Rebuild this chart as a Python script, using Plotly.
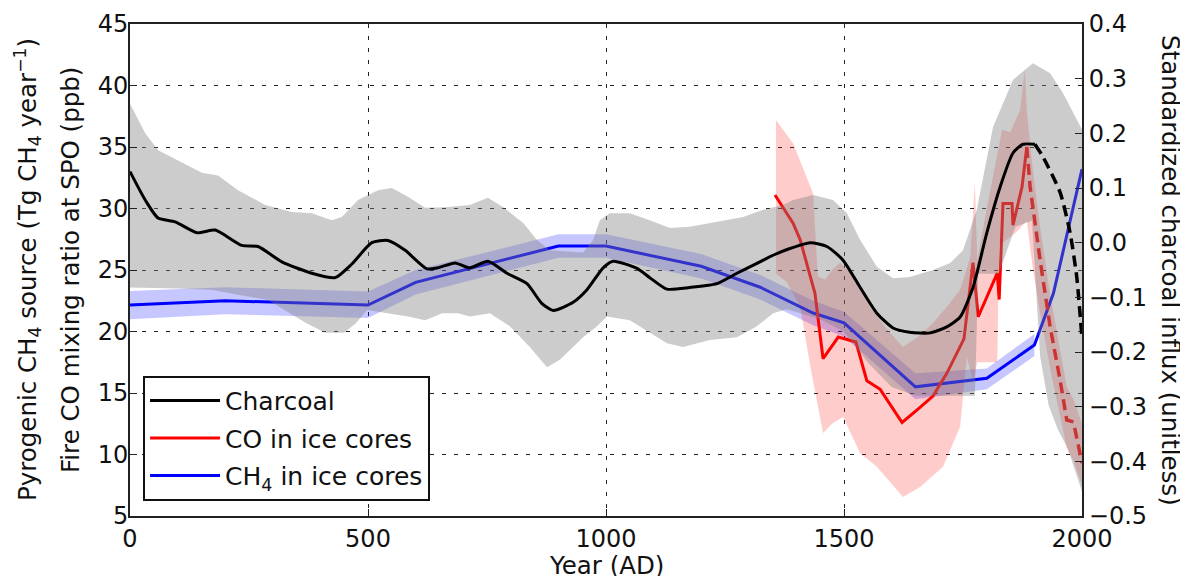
import plotly.graph_objects as go

# ---------------- data ----------------
# Charcoal composite (right axis, standardized units)
charcoal_year = [0, 32, 59, 95, 141, 179, 235, 269, 319, 382, 431, 466, 508, 542, 578, 624, 647,
                 683, 714, 752, 792, 834, 865, 889, 931, 960, 994, 1015, 1065, 1092, 1128, 1176,
                 1233, 1275, 1317, 1351, 1382, 1429, 1464, 1498, 1534, 1569, 1603, 1638, 1681,
                 1716, 1744, 1771, 1800, 1828, 1855, 1876, 1901]
charcoal_val = [0.130, 0.078, 0.045, 0.038, 0.018, 0.023, -0.005, -0.007, -0.035, -0.056, -0.064,
                -0.039, 0.000, 0.004, -0.014, -0.048, -0.046, -0.037, -0.046, -0.034, -0.056,
                -0.075, -0.111, -0.124, -0.109, -0.086, -0.046, -0.034, -0.047, -0.064, -0.085,
                -0.082, -0.075, -0.056, -0.038, -0.023, -0.012, 0.000, -0.007, -0.032, -0.082,
                -0.129, -0.156, -0.164, -0.165, -0.154, -0.136, -0.082, 0.018, 0.102, 0.164,
                0.180, 0.180]
charcoal_dash_year = [1901, 1918, 1954, 1975, 1989, 2000]
charcoal_dash_val = [0.180, 0.157, 0.092, 0.018, -0.063, -0.175]

# Charcoal uncertainty envelope (right axis units)
charcoal_up_year = [0, 32, 59, 101, 151, 185, 227, 284, 340, 382, 424, 445, 479, 521, 550, 584,
                    620, 662, 714, 752, 784, 826, 855, 882, 910, 952, 973, 987, 1008, 1050, 1092,
                    1134, 1176, 1233, 1288, 1330, 1372, 1393, 1435, 1477, 1506, 1534, 1569, 1603,
                    1638, 1687, 1723, 1750, 1779, 1813, 1855, 1897, 1933, 1960, 1989, 2000]
charcoal_up = [0.254, 0.200, 0.169, 0.150, 0.128, 0.123, 0.096, 0.069, 0.056, 0.054, 0.041, 0.047,
               0.078, 0.096, 0.100, 0.084, 0.064, 0.065, 0.069, 0.082, 0.065, 0.036, 0.005,
               -0.014, -0.016, -0.018, 0.005, 0.041, 0.054, 0.054, 0.041, 0.027, 0.029, 0.038,
               0.047, 0.060, 0.069, 0.078, 0.087, 0.078, 0.054, 0.005, -0.044, -0.065, -0.063,
               -0.050, -0.037, -0.014, 0.060, 0.211, 0.298, 0.328, 0.310, 0.274, 0.225, 0.207]
charcoal_lo_year = [0, 100, 170, 290, 370, 410, 450, 475, 498, 540, 584, 620, 656, 689, 714, 756,
                    798, 840, 876, 903, 952, 981, 1002, 1050, 1092, 1128, 1162, 1218, 1275, 1317,
                    1351, 1380, 1450, 1500, 1550, 1600, 1650, 1700, 1775, 1782, 1825, 1860, 1895,
                    1912, 1930, 1950, 1970, 2000]
charcoal_lo = [-0.082, -0.084, -0.086, -0.105, -0.147, -0.165, -0.165, -0.147, -0.123, -0.129,
               -0.135, -0.142, -0.129, -0.129, -0.135, -0.129, -0.153, -0.191, -0.228, -0.214,
               -0.173, -0.153, -0.135, -0.142, -0.165, -0.184, -0.191, -0.178, -0.173, -0.153,
               -0.129, -0.122, -0.140, -0.163, -0.219, -0.264, -0.280, -0.280, -0.280, -0.057,
               -0.057, 0.029, 0.040, -0.208, -0.298, -0.343, -0.376, -0.455]

# CO in ice cores (left axis, ppb)
co_year = [1355, 1393, 1408, 1439, 1456, 1488, 1525, 1548, 1576, 1622, 1653, 1687, 1716, 1752,
           1771, 1782, 1822, 1826, 1834, 1853, 1855, 1874, 1884]
co_val = [31.1, 28.8, 27.45, 23.1, 17.8, 19.55, 19.15, 16.0, 15.3, 12.6, 13.6, 14.75, 16.6, 19.4,
          25.6, 21.2, 24.75, 22.6, 30.4, 30.4, 28.65, 31.75, 35.0]
co_dash_year = [1884, 1891, 1912, 1933, 1954, 1968, 1982, 2000]
co_dash_val = [35.0, 31.75, 25.8, 20.4, 16.05, 12.8, 12.65, 9.3]

co_up_year = [1357, 1393, 1435, 1445, 1460, 1475, 1492, 1520, 1555, 1590, 1624, 1660, 1687, 1720,
              1744, 1765, 1775, 1780, 1800, 1832, 1849, 1870, 1880, 1884]
co_up = [37.2, 35.3, 31.25, 24.5, 24.2, 25.0, 25.6, 24.5, 22.0, 20.2, 18.75, 19.7, 20.7, 22.2,
         23.4, 26.0, 32.1, 25.8, 30.0, 36.4, 36.2, 38.0, 41.3, 38.0]
co_lo_year = [1357, 1380, 1408, 1430, 1456, 1475, 1498, 1534, 1569, 1624, 1660, 1708, 1744, 1758,
              1771, 1780, 1822, 1826, 1860, 1884]
co_lo = [24.7, 24.0, 22.0, 17.0, 11.75, 12.5, 13.05, 10.1, 9.0, 6.55, 7.35, 9.0, 12.25, 17.9,
         16.0, 17.5, 17.5, 27.0, 28.0, 29.0]
co_dash_band_year = [1884, 1897, 1912, 1933, 1954, 1968, 1982, 2000]
co_dash_up = [38.0, 33.0, 28.5, 23.0, 18.5, 15.5, 14.5, 12.5]
co_dash_lo = [29.0, 25.0, 21.5, 17.0, 13.0, 10.5, 9.5, 7.5]

# CH4 in ice cores (left axis, Tg CH4 / yr)
ch4_year = [0, 200, 500, 600, 900, 1000, 1200, 1324, 1435, 1500, 1650, 1800, 1900, 1940, 2000]
ch4_val = [22.15, 22.5, 22.15, 24.0, 26.95, 26.95, 25.3, 23.6, 21.5, 20.7, 15.5, 16.2, 18.9, 23.1, 33.2]
ch4_band_year = [0, 200, 500, 600, 900, 1000, 1200, 1324, 1435, 1500, 1650, 1800, 1900]
ch4_up = [23.3, 23.6, 23.25, 25.0, 27.9, 27.9, 26.3, 24.6, 22.5, 21.6, 16.6, 17.0, 19.8]
ch4_lo = [21.0, 21.4, 21.1, 23.0, 26.0, 26.0, 24.3, 22.6, 20.5, 19.6, 14.5, 15.3, 18.0]

x_ticks = [0, 500, 1000, 1500, 2000]
left_ticks = [5, 10, 15, 20, 25, 30, 35, 40, 45]
right_ticks = [-0.5, -0.4, -0.3, -0.2, -0.1, 0.0, 0.1, 0.2, 0.3, 0.4]

# ---------------- figure ----------------
FONT = "DejaVu Sans"
TXT = "#111111"
fig = go.Figure()


def band(xs, up, xs_lo, lo, color, yaxis="y"):
    fig.add_trace(go.Scatter(
        x=list(xs) + list(xs_lo)[::-1], y=list(up) + list(lo)[::-1],
        fill="toself", fillcolor=color, line=dict(width=0), mode="lines",
        hoverinfo="skip", showlegend=False, yaxis=yaxis))


band(ch4_band_year, ch4_up, ch4_band_year, ch4_lo, "rgba(0,0,255,0.22)")
band(co_up_year, co_up, co_lo_year, co_lo, "rgba(255,0,0,0.2)")
band(co_dash_band_year, co_dash_up, co_dash_band_year, co_dash_lo, "rgba(255,0,0,0.2)")

fig.add_trace(go.Scatter(x=ch4_year, y=ch4_val, mode="lines", name="CH<sub>4</sub> in ice cores",
                         line=dict(color="#0000ff", width=3), legendrank=3, legendgroup="c"))
fig.add_trace(go.Scatter(x=co_year, y=co_val, mode="lines", name="CO in ice cores",
                         line=dict(color="#ff0000", width=3), legendrank=2, legendgroup="b"))
fig.add_trace(go.Scatter(x=co_dash_year, y=co_dash_val, mode="lines", showlegend=False,
                         line=dict(color="#ff0000", width=3.5, dash="11px,6px")))

band(charcoal_up_year, charcoal_up, charcoal_lo_year, charcoal_lo, "rgba(128,128,128,0.4)", "y2")
fig.add_trace(go.Scatter(x=charcoal_year, y=charcoal_val, mode="lines", name="Charcoal",
                         line=dict(color="#000000", width=3, shape="spline", smoothing=0.6),
                         yaxis="y2", legendrank=1, legendgroup="a"))
fig.add_trace(go.Scatter(x=charcoal_dash_year, y=charcoal_dash_val, mode="lines", showlegend=False,
                         line=dict(color="#000000", width=3.5, dash="11px,6px", shape="spline",
                                   smoothing=0.6),
                         yaxis="y2"))

grid = dict(showgrid=True, gridcolor="#222222", gridwidth=1, griddash="4px,8px")
axis_line = dict(showline=True, linecolor="#222222", linewidth=2, ticks="inside", ticklen=7,
                 tickcolor="#222222", tickfont=dict(family=FONT, size=24, color=TXT),
                 zeroline=False, automargin=False)

# page body has an 8px margin: the figure is shrunk and shifted so the plot lands where the
# reference has it (plot area at x 130-1082, y 24-516 in the 1188x576 window)
fig.update_layout(
    width=1180, height=568,
    margin=dict(l=122, r=106, t=16, b=60),
    paper_bgcolor="white", plot_bgcolor="white",
    font=dict(family=FONT, color=TXT),
    xaxis=dict(range=[0, 2000], tickvals=x_ticks, mirror=True, **grid, **axis_line),
    yaxis=dict(range=[5, 45], tickvals=left_ticks, ticklabelstandoff=-5, **grid, **axis_line),
    yaxis2=dict(range=[-0.5, 0.4], tickvals=right_ticks, tickformat=".1f", overlaying="y",
                side="right", showgrid=False, **axis_line),
    legend=dict(x=0.0137, y=0.285, xanchor="left", yanchor="top", bgcolor="white",
                bordercolor=TXT, borderwidth=2, font=dict(family=FONT, size=25),
                traceorder="grouped", tracegroupgap=2, itemwidth=70),
    showlegend=True,
)

fig.add_annotation(text="Pyrogenic CH<sub>4</sub> source (Tg CH<sub>4</sub> year<sup>−1</sup>)",
                   xref="paper", yref="paper", x=(27 - 130) / 952, y=0.5, textangle=-90,
                   xanchor="center", yanchor="middle", showarrow=False,
                   font=dict(family=FONT, size=24.5, color=TXT))
fig.add_annotation(text="Fire CO mixing ratio at SPO (ppb)",
                   xref="paper", yref="paper", x=(70 - 130) / 952, y=0.5, textangle=-90,
                   xanchor="center", yanchor="middle", showarrow=False,
                   font=dict(family=FONT, size=24.5, color=TXT))
fig.add_annotation(text="Standardized charcoal influx (unitless)",
                   xref="paper", yref="paper", x=(1171 - 130) / 952, y=0.5, textangle=90,
                   xanchor="center", yanchor="middle", showarrow=False,
                   font=dict(family=FONT, size=24.5, color=TXT))
fig.add_annotation(text="Year (AD)", xref="paper", yref="paper", x=0.5, y=(516 - 565) / 492,
                   xanchor="center", yanchor="middle", showarrow=False,
                   font=dict(family=FONT, size=24.5, color=TXT))

fig.write_html("out.html")
